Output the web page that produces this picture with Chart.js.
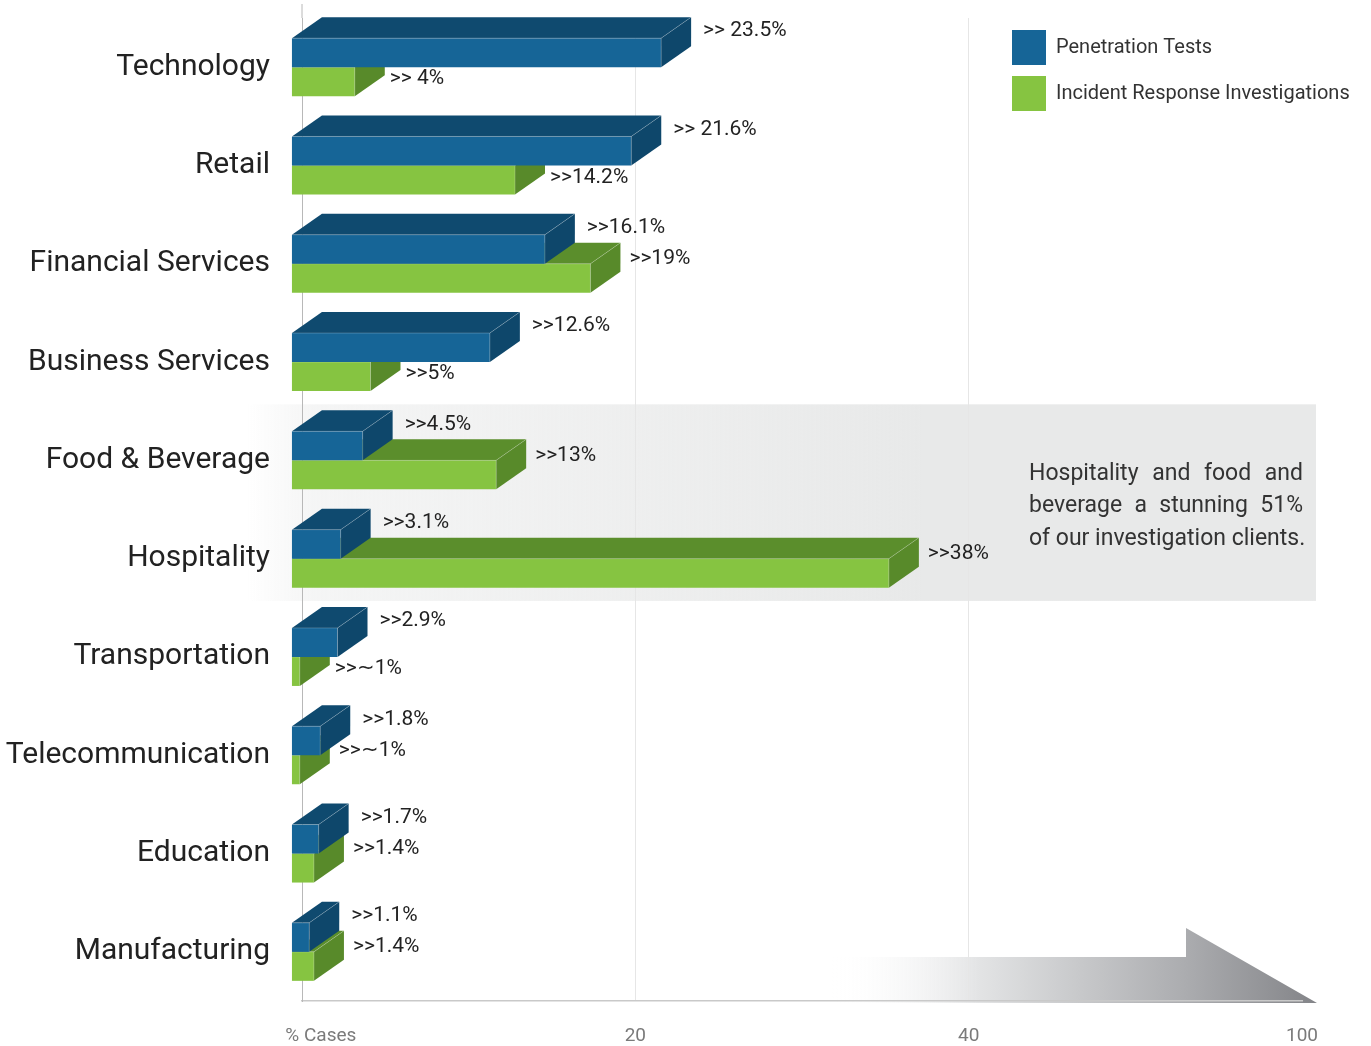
<!DOCTYPE html>
<html>
<head>
<meta charset="utf-8">
<title>Penetration tests vs incident response by industry</title>
<script src="https://cdn.jsdelivr.net/npm/chart.js@4.4.1/dist/chart.umd.min.js"></script>
<style>
  html, body { margin: 0; padding: 0; background: #fff; }
  #wrap { width: 1371px; height: 1046px; }
</style>
</head>
<body>
<div id="wrap"><canvas id="chart"></canvas></div>
<script>
const industries = ["Technology", "Retail", "Financial Services", "Business Services", "Food & Beverage",
  "Hospitality", "Transportation", "Telecommunication", "Education", "Manufacturing"];
const penetrationTests = [23.5, 21.6, 16.1, 12.6, 4.5, 3.1, 2.9, 1.8, 1.7, 1.1];
const incidentResponse = [4, 14.2, 19, 5, 13, 38, 0.5, 0.5, 1.4, 1.4];
const penetrationText = [">> 23.5%", ">> 21.6%", ">>16.1%", ">>12.6%", ">>4.5%", ">>3.1%", ">>2.9%", ">>1.8%", ">>1.7%", ">>1.1%"];
const incidentText = [">> 4%", ">>14.2%", ">>19%", ">>5%", ">>13%", ">>38%", ">>∼1%", ">>∼1%", ">>1.4%", ">>1.4%"];
const axisLabels = ["% Cases", "20", "40", "100"];
const noteLines = ["Hospitality and food and", "beverage a stunning 51%", "of our investigation clients."];

// extrusion of the fake 3d boxes
const DEPTH_X = 30;
const DEPTH_Y = 21;

Chart.defaults.font.family = "Roboto, 'Open Sans', sans-serif";

// draws the top and right faces of every bar after its dataset is drawn
const box3d = {
  id: "box3d",
  afterDatasetDraw(chart, args) {
    const ds = chart.data.datasets[args.index];
    const ctx = chart.ctx;
    ctx.save();
    args.meta.data.forEach((bar) => {
      const { x, y, base, height } = bar.getProps(["x", "y", "base", "height"], true);
      const top = y - height / 2;
      const bottom = y + height / 2;
      ctx.fillStyle = ds.topColor;
      ctx.beginPath();
      ctx.moveTo(base, top);
      ctx.lineTo(base + DEPTH_X, top - DEPTH_Y);
      ctx.lineTo(x + DEPTH_X, top - DEPTH_Y);
      ctx.lineTo(x, top);
      ctx.closePath();
      ctx.fill();
      ctx.fillStyle = ds.sideColor;
      ctx.beginPath();
      ctx.moveTo(x, top);
      ctx.lineTo(x + DEPTH_X, top - DEPTH_Y);
      ctx.lineTo(x + DEPTH_X, bottom - DEPTH_Y);
      ctx.lineTo(x, bottom);
      ctx.closePath();
      ctx.fill();
      // thin light edges
      ctx.strokeStyle = "rgba(255,255,255,0.22)";
      ctx.lineWidth = 1;
      ctx.beginPath();
      ctx.moveTo(base, top);
      ctx.lineTo(x, top);
      ctx.lineTo(x + DEPTH_X, top - DEPTH_Y);
      ctx.moveTo(x, top);
      ctx.lineTo(x, bottom);
      ctx.stroke();
    });
    ctx.restore();
  },
  afterDatasetsDraw(chart) {
    const ctx = chart.ctx;
    const blue = chart.getDatasetMeta(0).data;
    const green = chart.getDatasetMeta(1).data;
    ctx.save();
    ctx.font = "21px Roboto";
    ctx.fillStyle = "#222";
    ctx.textAlign = "left";
    ctx.textBaseline = "middle";
    blue.forEach((b, i) => {
      ctx.fillText(penetrationText[i], b.x + DEPTH_X + 12, b.y - b.height / 2 - 7);
      const g = green[i];
      const gTop = g.y - g.height / 2;
      // green top face only shows when it reaches past the blue box
      const open = g.x + DEPTH_X > b.x + 5;
      ctx.fillText(incidentText[i], g.x + DEPTH_X + (open ? 9 : 5), open ? gTop - 5 : gTop + 12);
    });
    ctx.restore();
  }
};

// highlight band, bottom arrow and the note
const decor = {
  id: "decor",
  beforeDraw(chart) {
    const { ctx, chartArea: a, scales: { y } } = chart;
    const step = y.getPixelForValue(1) - y.getPixelForValue(0);
    const bandTop = y.getPixelForValue(4) - step * 0.57;
    const bandBottom = y.getPixelForValue(5) + step * 0.43;
    ctx.save();
    let grad = ctx.createLinearGradient(a.left - 55, 0, a.left + 620, 0);
    grad.addColorStop(0, "rgba(232,233,233,0)");
    grad.addColorStop(0.1, "rgba(232,233,233,0.45)");
    grad.addColorStop(1, "rgba(232,233,233,1)");
    ctx.fillStyle = grad;
    ctx.fillRect(a.left - 55, bandTop, a.right + 14 - (a.left - 55), bandBottom - bandTop);

    const ax0 = a.left + 530, tip = a.right + 15, head = a.right - 116;
    grad = ctx.createLinearGradient(ax0, 0, tip, 0);
    grad.addColorStop(0, "rgba(255,255,255,0)");
    grad.addColorStop(0.3, "#e3e4e5");
    grad.addColorStop(0.73, "#abacaf");
    grad.addColorStop(1, "#838488");
    ctx.fillStyle = grad;
    ctx.beginPath();
    ctx.moveTo(ax0, a.bottom - 44);
    ctx.lineTo(head, a.bottom - 44);
    ctx.lineTo(head, a.bottom - 73);
    ctx.lineTo(tip, a.bottom + 2);
    ctx.lineTo(ax0, a.bottom + 2);
    ctx.closePath();
    ctx.fill();
    ctx.restore();
  },
  afterDraw(chart) {
    const { ctx, chartArea: a, scales: { y } } = chart;
    ctx.save();
    ctx.strokeStyle = "#b8b8b8";
    ctx.lineWidth = 1;
    ctx.beginPath();
    ctx.moveTo(a.left, 4);
    ctx.lineTo(a.left, a.top);
    ctx.stroke();

    const step = y.getPixelForValue(1) - y.getPixelForValue(0);
    const mid = (y.getPixelForValue(4) - step * 0.57 + y.getPixelForValue(5) + step * 0.43) / 2 + 4;
    const right = a.right + 1, width = 274, left = right - width;
    ctx.font = "23px Roboto";
    ctx.fillStyle = "#333";
    ctx.textBaseline = "middle";
    ctx.textAlign = "left";
    noteLines.forEach((line, i) => {
      const ly = mid + (i - 1) * 32.5;
      const words = line.split(" ");
      if (i === noteLines.length - 1) {
        ctx.fillText(line, left, ly);
        return;
      }
      const total = words.reduce((s, w) => s + ctx.measureText(w).width, 0);
      const gap = (width - total) / (words.length - 1);
      let x = left;
      words.forEach((w) => {
        ctx.fillText(w, x, ly);
        x += ctx.measureText(w).width + gap;
      });
    });
    ctx.restore();
  }
};

// legend floats over the top-right corner instead of taking room
const legendFloat = {
  id: "legendFloat",
  beforeLayout(chart) {
    const lg = chart.legend;
    if (!lg || lg.floatPatched) return;
    const fit = lg.fit;
    lg.fit = function () {
      fit.call(this);
      this.width = 0;
    };
    lg.floatPatched = true;
  },
  afterLayout(chart) {
    const lg = chart.legend;
    const a = chart.chartArea;
    lg.left = a.right - 301;
    lg.top = 19;
    lg.right = chart.width;
    lg.width = lg.right - lg.left;
    lg.height = 110;
    lg.bottom = lg.top + lg.height;
  }
};

new Chart(document.getElementById("chart"), {
  type: "bar",
  data: {
    labels: industries,
    datasets: [
      {
        label: "Penetration Tests",
        data: penetrationTests,
        backgroundColor: "#166597",
        topColor: "#0f4a6f",
        sideColor: "#0e476b",
        borderWidth: 0,
        base: 0,
        clip: false,
        barPercentage: 1,
        categoryPercentage: 0.59
      },
      {
        label: "Incident Response Investigations",
        data: incidentResponse,
        backgroundColor: "#86c441",
        topColor: "#5b8e2c",
        sideColor: "#588a2a",
        borderWidth: 0,
        base: 0,
        clip: false,
        barPercentage: 1,
        categoryPercentage: 0.59
      }
    ]
  },
  options: {
    indexAxis: "y",
    responsive: true,
    maintainAspectRatio: false,
    animation: false,
    layout: { padding: { top: 18, right: 69, bottom: 0, left: 0 } },
    scales: {
      // bars start 10px left of the axis line, like the 3d drawing
      x: { type: "linear", min: 0.64, max: 64.3, display: false },
      x2: {
        axis: "x",
        type: "category",
        position: "bottom",
        labels: axisLabels,
        offset: false,
        afterFit: (scale) => { scale.height = 45; },
        grid: {
          drawTicks: false,
          color: (c) => (c.index === 1 || c.index === 2 ? "#e6e6e6" : "rgba(0,0,0,0)")
        },
        border: { color: "#c9c9c9", width: 1.5 },
        ticks: {
          padding: 24,
          color: "#7a7a7a",
          font: { size: 19 },
          maxRotation: 0,
          autoSkip: false,
          callback: function (value, index) {
            const label = this.getLabelForValue(value);
            return index === 0 ? "        " + label : label;
          }
        }
      },
      y: {
        afterFit: (scale) => {
          scale.width = 302;
          // no room reserved for half labels at the ends
          scale.paddingTop = 0;
          scale.paddingBottom = 0;
        },
        grid: { display: false, drawTicks: false },
        border: { color: "#b8b8b8", width: 1 },
        ticks: { padding: 32, color: "#222", font: { size: 30 } }
      }
    },
    plugins: {
      legend: {
        position: "right",
        align: "start",
        labels: { boxWidth: 34, boxHeight: 35, padding: 11, color: "#333", font: { size: 20 } }
      },
      tooltip: { enabled: false }
    }
  },
  plugins: [decor, box3d, legendFloat]
});
</script>
</body>
</html>
